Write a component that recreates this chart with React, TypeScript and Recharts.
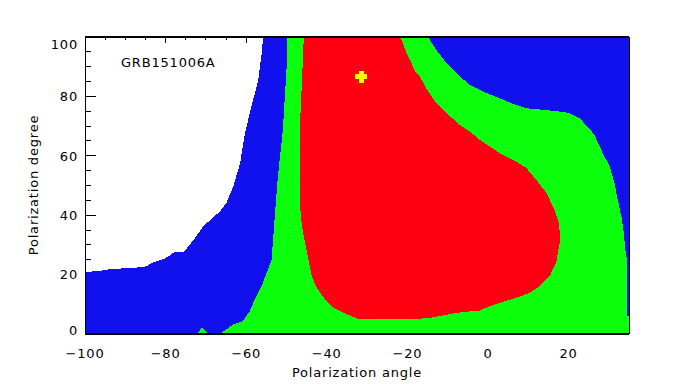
import React from 'react';
import { ComposedChart, Area, Scatter, XAxis, YAxis } from 'recharts';

const xDomain: [number, number] = [-100, 35];
const yDomain: [number, number] = [0, 100];
const xTickLabels = [-100, -80, -60, -40, -20, 0, 20];
const xMinorTicks = [-100, -95, -90, -85, -80, -75, -70, -65, -60, -55, -50, -45, -40, -35, -30, -25, -20, -15, -10, -5, 0, 5, 10, 15, 20, 25, 30, 35];
const yTicks = [0, 5, 10, 15, 20, 25, 30, 35, 40, 45, 50, 55, 60, 65, 70, 75, 80, 85, 90, 95, 100];

// 99% contour (blue): the white top-left corner lies above this edge
const blueTop = [
  { x: -100, y: 20.6 }, { x: -98.6, y: 21.0 }, { x: -96.5, y: 21.2 }, { x: -94.0, y: 21.8 },
  { x: -91.6, y: 22.0 }, { x: -87.0, y: 22.4 }, { x: -84.6, y: 22.8 }, { x: -83.7, y: 23.7 },
  { x: -82.5, y: 24.4 }, { x: -80.4, y: 25.3 }, { x: -79.2, y: 26.2 }, { x: -77.9, y: 27.5 },
  { x: -75.5, y: 27.7 }, { x: -74.2, y: 29.7 }, { x: -73.0, y: 31.8 }, { x: -70.7, y: 36.2 },
  { x: -66.5, y: 41.3 }, { x: -64.9, y: 44.2 }, { x: -63.2, y: 49.7 }, { x: -61.5, y: 57.6 },
  { x: -60.3, y: 67.7 }, { x: -58.7, y: 76.6 }, { x: -57.0, y: 85.5 }, { x: -56.2, y: 94.0 },
  { x: -55.8, y: 100 }, { x: 35, y: 100 },
];

// 90% contour (green)
const greenTop = [
  { x: -72.3, y: 0 }, { x: -71.0, y: 2.1 }, { x: -69.4, y: 0 }, { x: -66.1, y: 0.4 },
  { x: -63.2, y: 3.2 }, { x: -60.8, y: 4.3 }, { x: -59.1, y: 7.7 }, { x: -57.9, y: 11.6 },
  { x: -56.2, y: 16.1 }, { x: -54.6, y: 21.7 }, { x: -53.7, y: 25.0 }, { x: -52.9, y: 39.6 },
  { x: -52.2, y: 51.9 }, { x: -51.6, y: 59.8 }, { x: -50.9, y: 68.7 }, { x: -50.4, y: 79.9 },
  { x: -49.9, y: 91.2 }, { x: -49.8, y: 100 }, { x: -14.9, y: 100 }, { x: -12.8, y: 95.6 },
  { x: -10.3, y: 91.2 }, { x: -7.0, y: 86.7 }, { x: -4.5, y: 83.9 }, { x: -1.2, y: 81.6 },
  { x: 2.9, y: 79.4 }, { x: 6.2, y: 77.5 }, { x: 9.5, y: 76.0 }, { x: 13.6, y: 75.5 },
  { x: 17.8, y: 74.9 }, { x: 20.2, y: 74.4 }, { x: 22.7, y: 72.7 }, { x: 25.2, y: 69.0 },
  { x: 26.4, y: 67.1 }, { x: 27.7, y: 63.1 }, { x: 28.9, y: 59.8 }, { x: 30.2, y: 56.4 },
  { x: 31.4, y: 50.8 }, { x: 32.2, y: 45.2 }, { x: 33.1, y: 39.6 }, { x: 33.7, y: 34.0 },
  { x: 34.1, y: 28.4 }, { x: 34.5, y: 25.0 }, { x: 34.6, y: 6.0 }, { x: 35, y: 6.0 },
];

// 68% contour (red): upper and lower edges
const redTop = [
  { x: -46.7, y: 68.7 }, { x: -46.2, y: 83.9 }, { x: -45.7, y: 100 }, { x: -21.7, y: 100 },
  { x: -21.1, y: 97.9 }, { x: -20.2, y: 94.5 }, { x: -19.4, y: 92.3 }, { x: -17.8, y: 87.8 },
  { x: -16.9, y: 86.7 }, { x: -15.1, y: 82.2 }, { x: -12.8, y: 77.7 }, { x: -10.3, y: 74.4 },
  { x: -7.0, y: 70.4 }, { x: -4.5, y: 68.2 }, { x: -2.1, y: 65.4 }, { x: 2.9, y: 60.9 },
  { x: 7.0, y: 58.1 }, { x: 9.5, y: 55.9 }, { x: 12.0, y: 51.9 }, { x: 14.5, y: 47.5 },
  { x: 16.5, y: 41.8 }, { x: 17.6, y: 37.4 }, { x: 17.8, y: 34.1 },
];
const redBottom = [
  { x: -46.7, y: 44.2 }, { x: -46.2, y: 36.8 }, { x: -45.7, y: 32.8 }, { x: -44.7, y: 26.1 },
  { x: -43.7, y: 19.3 }, { x: -42.5, y: 15.6 }, { x: -41.0, y: 12.6 }, { x: -38.5, y: 8.9 },
  { x: -35.0, y: 6.6 }, { x: -32.3, y: 5.1 }, { x: -21.9, y: 4.9 }, { x: -17.4, y: 5.1 },
  { x: -14.5, y: 5.4 }, { x: -11.3, y: 6.2 }, { x: -7.8, y: 7.1 }, { x: -4.5, y: 7.6 },
  { x: -2.1, y: 7.9 }, { x: 0.4, y: 9.3 }, { x: 2.9, y: 10.5 }, { x: 7.1, y: 12.2 },
  { x: 10.3, y: 13.8 }, { x: 12.8, y: 16.1 }, { x: 15.3, y: 19.4 }, { x: 16.9, y: 23.9 },
  { x: 17.8, y: 30.7 },
];

const bestFit = [{ x: -31.4, y: 86.6 }];

const BLUE = '#1111EE';
const GREEN = '#0CFF0C';
const RED = '#FF0012';
const FONT = '"DejaVu Sans", sans-serif';

// ticks are only visible where nothing is filled (the white corner)
const whiteStartsAt = blueTop.find((p) => p.y >= 100)!.x;
const whiteLeftFrom = blueTop[0].y;

const fmt = (v: number) => (v < 0 ? '\u2212' + Math.abs(v) : String(v));

function BottomTick({ x, y, payload }: any) {
  return (
    <text x={x} y={y + 24} textAnchor="middle" fontSize={13} letterSpacing={0.8} fontFamily={FONT} fill="#000">
      {fmt(payload.value)}
    </text>
  );
}

function TopTick({ x, y, payload }: any) {
  const v = payload.value;
  if (v >= whiteStartsAt) return <g />;
  const len = v % 20 === 0 ? 6 : 3;
  return <line x1={x} y1={y} x2={x} y2={y + len} stroke="#000" />;
}

function LeftTick({ x, y, payload }: any) {
  const v = payload.value;
  const major = v % 20 === 0;
  const shift = v === 100 ? 12 : v === 0 ? 0.5 : 4.7;
  return (
    <g>
      {v > whiteLeftFrom && <line x1={x} y1={y} x2={x + (major ? 11 : 5.5)} y2={y} stroke="#000" />}
      {major && (
        <text x={x - 7} y={y + shift} textAnchor="end" fontSize={13} letterSpacing={0.8} fontFamily={FONT} fill="#000">
          {v}
        </text>
      )}
    </g>
  );
}

function Plus({ cx, cy }: any) {
  return (
    <path
      d={`M${cx - 6},${cy - 2.5}h12v5h-12z M${cx - 2.5},${cy - 6}h5v12h-5z`}
      fill="#FFFF00"
    />
  );
}

export default function App() {
  return (
    <div style={{ position: 'absolute', left: 0, top: 0, width: 680, height: 384, background: '#fff' }}>
      <ComposedChart
        width={680}
        height={384}
        margin={{ top: 0, right: 0, bottom: 0, left: 0 }}
        style={{ shapeRendering: 'crispEdges' }}
      >
        <XAxis
          dataKey="x"
          type="number"
          domain={xDomain}
          ticks={xTickLabels}
          interval={0}
          height={50}
          tickSize={0}
          tickMargin={0}
          tickLine={false}
          axisLine={{ stroke: '#000', strokeWidth: 2 }}
          tick={<BottomTick />}
          allowDataOverflow
        />
        <XAxis
          xAxisId="top"
          orientation="top"
          dataKey="x"
          type="number"
          domain={xDomain}
          ticks={xMinorTicks}
          interval={0}
          height={37}
          tickSize={0}
          tickMargin={0}
          tickLine={false}
          axisLine={{ stroke: '#000', strokeWidth: 2 }}
          tick={<TopTick />}
          allowDataOverflow
        />
        <YAxis
          dataKey="y"
          type="number"
          domain={yDomain}
          ticks={yTicks}
          interval={0}
          width={85}
          tickSize={0}
          tickMargin={0}
          tickLine={false}
          axisLine={{ stroke: '#000' }}
          tick={<LeftTick />}
          allowDataOverflow
        />
        <YAxis
          yAxisId="right"
          orientation="right"
          type="number"
          domain={yDomain}
          width={51}
          tick={false}
          tickLine={false}
          axisLine={{ stroke: '#000' }}
        />
        <Area data={blueTop} dataKey="y" type="linear" stroke="none" fill={BLUE} fillOpacity={1} baseValue={0} dot={false} activeDot={false} isAnimationActive={false} />
        <Area data={greenTop} dataKey="y" type="linear" stroke="none" fill={GREEN} fillOpacity={1} baseValue={0} dot={false} activeDot={false} isAnimationActive={false} />
        <Area data={redTop} dataKey="y" type="linear" stroke="none" fill={RED} fillOpacity={1} baseValue={0} dot={false} activeDot={false} isAnimationActive={false} />
        <Area data={redBottom} dataKey="y" type="linear" stroke="none" fill={GREEN} fillOpacity={1} baseValue={0} dot={false} activeDot={false} isAnimationActive={false} />
        <Scatter data={bestFit} dataKey="y" shape={<Plus />} isAnimationActive={false} />
      </ComposedChart>
      <svg width={680} height={384} style={{ position: 'absolute', left: 0, top: 0, pointerEvents: 'none' }}>
        <text x={121} y={67} fontSize={13} letterSpacing={0.8} fontFamily={FONT} fill="#000">
          GRB151006A
        </text>
        <text x={357} y={377} textAnchor="middle" fontSize={13} letterSpacing={0.8} fontFamily={FONT} fill="#000">
          Polarization angle
        </text>
        <text
          x={38}
          y={185}
          textAnchor="middle"
          fontSize={13}
          letterSpacing={0.8}
          fontFamily={FONT}
          fill="#000"
          transform="rotate(-90 38 185)"
        >
          Polarization degree
        </text>
      </svg>
    </div>
  );
}
